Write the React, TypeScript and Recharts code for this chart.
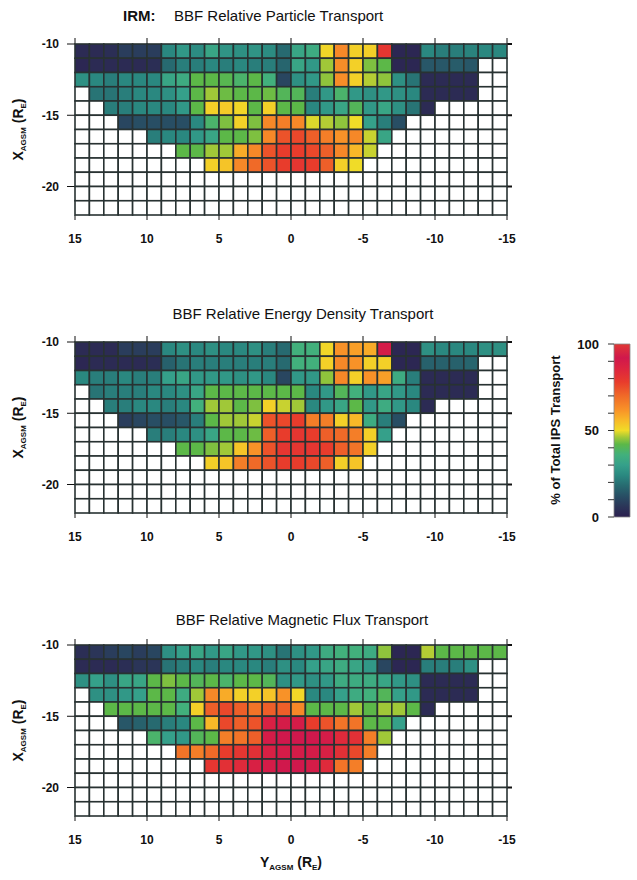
import React from "react";
import { Bar, BarChart, Scatter, ScatterChart, XAxis, YAxis } from "recharts";

const _ = null;

// Y_AGSM column left edges (R_E), drawn from +15 on the left to -15 on the right
const yEdges = [15, 14, 13, 12, 11, 10, 9, 8, 7, 6, 5, 4, 3, 2, 1, 0, -1, -2, -3, -4, -5, -6, -7, -8, -9, -10, -11, -12, -13, -14];
// X_AGSM row top edges (R_E)
const xEdges = [-10, -11, -12, -13, -14, -15, -16, -17, -18, -19, -20, -21];

const yTicks = [15, 10, 5, 0, -5, -10, -15];
const xTicks = [-10, -15, -20];
const scaleTicks = [0, 10, 20, 30, 40, 50, 60, 70, 80, 90, 100];
const scaleLabels = [0, 50, 100];

// % of total IPS transport per 1x1 R_E bin, rows from X=-10 downwards
const particle = [
  [3, 3, 4, 8, 8, 8, 24, 28, 25, 32, 27, 26, 27, 25, 18, 32, 34, 51, 64, 52, 52, 80, 2, 2, 24, 22, 22, 23, 24, 24],
  [2, 3, 3, 3, 3, 4, 18, 22, 22, 24, 22, 24, 22, 22, 17, 32, 28, 46, 63, 52, 44, 42, 2, 2, 14, 14, 15, 14, _, _],
  [26, 24, 22, 24, 24, 24, 32, 34, 42, 42, 41, 38, 42, 36, 10, 26, 28, 45, 63, 52, 47, 45, 26, 20, 3, 3, 3, 3, _, _],
  [_, 20, 20, 22, 24, 24, 26, 30, 42, 46, 43, 42, 42, 43, 40, 40, 22, 28, 38, 28, 26, 28, 26, 24, 3, 3, 3, 3, _, _],
  [_, _, 22, 22, 24, 24, 24, 28, 42, 52, 53, 51, 42, 52, 42, 42, 24, 28, 32, 40, 28, 32, 26, 20, 3, _, _, _, _, _],
  [_, _, _, 10, 12, 12, 12, 12, 24, 38, 44, 52, 44, 64, 66, 64, 49, 47, 45, 50, 30, 22, 12, _, _, _, _, _, _, _],
  [_, _, _, _, _, 22, 24, 24, 28, 32, 42, 42, 44, 64, 74, 76, 72, 66, 62, 64, 48, 32, _, _, _, _, _, _, _, _],
  [_, _, _, _, _, _, _, 42, 42, 46, 46, 58, 64, 74, 78, 78, 76, 72, 64, 56, 48, _, _, _, _, _, _, _, _, _],
  [_, _, _, _, _, _, _, _, _, 52, 54, 64, 70, 74, 78, 80, 78, 72, 52, 50, _, _, _, _, _, _, _, _, _, _],
  [_, _, _, _, _, _, _, _, _, _, _, _, _, _, _, _, _, _, _, _, _, _, _, _, _, _, _, _, _, _],
  [_, _, _, _, _, _, _, _, _, _, _, _, _, _, _, _, _, _, _, _, _, _, _, _, _, _, _, _, _, _],
  [_, _, _, _, _, _, _, _, _, _, _, _, _, _, _, _, _, _, _, _, _, _, _, _, _, _, _, _, _, _],
];

const energy = [
  [3, 3, 3, 8, 8, 8, 24, 26, 24, 26, 24, 24, 26, 22, 18, 36, 36, 51, 62, 60, 58, 90, 2, 2, 26, 24, 24, 24, 26, 26],
  [2, 3, 3, 3, 3, 4, 16, 20, 22, 22, 22, 22, 22, 22, 18, 36, 36, 52, 64, 62, 52, 52, 2, 2, 16, 16, 16, 17, _, _],
  [24, 22, 22, 24, 22, 22, 30, 32, 28, 28, 28, 26, 28, 24, 10, 28, 28, 45, 64, 52, 62, 60, 34, 22, 3, 3, 3, 3, _, _],
  [_, 20, 22, 22, 22, 24, 24, 26, 32, 42, 42, 42, 42, 42, 42, 42, 24, 28, 40, 36, 28, 32, 28, 24, 3, 3, 3, 3, _, _],
  [_, _, 22, 22, 24, 24, 22, 24, 36, 46, 46, 42, 44, 52, 48, 46, 24, 28, 32, 42, 28, 34, 28, 24, 3, _, _, _, _, _],
  [_, _, _, 8, 10, 12, 12, 14, 22, 42, 46, 46, 48, 74, 76, 78, 66, 66, 52, 56, 34, 22, 12, _, _, _, _, _, _, _],
  [_, _, _, _, _, 22, 22, 24, 26, 32, 42, 42, 43, 72, 78, 80, 78, 72, 70, 66, 52, 30, _, _, _, _, _, _, _, _],
  [_, _, _, _, _, _, _, 42, 42, 44, 46, 54, 62, 74, 80, 80, 80, 78, 72, 68, 52, _, _, _, _, _, _, _, _, _],
  [_, _, _, _, _, _, _, _, _, 52, 54, 66, 70, 74, 78, 78, 76, 72, 52, 54, _, _, _, _, _, _, _, _, _, _],
  [_, _, _, _, _, _, _, _, _, _, _, _, _, _, _, _, _, _, _, _, _, _, _, _, _, _, _, _, _, _],
  [_, _, _, _, _, _, _, _, _, _, _, _, _, _, _, _, _, _, _, _, _, _, _, _, _, _, _, _, _, _],
  [_, _, _, _, _, _, _, _, _, _, _, _, _, _, _, _, _, _, _, _, _, _, _, _, _, _, _, _, _, _],
];

const flux = [
  [4, 6, 8, 10, 8, 10, 26, 30, 32, 28, 32, 28, 28, 26, 20, 26, 28, 34, 36, 36, 34, 45, 2, 2, 47, 42, 42, 42, 42, 42],
  [3, 3, 3, 4, 6, 6, 20, 22, 24, 22, 24, 24, 24, 22, 26, 24, 30, 32, 34, 32, 28, 10, 2, 2, 22, 22, 22, 26, _, _],
  [26, 30, 26, 32, 32, 42, 44, 42, 40, 42, 38, 42, 42, 40, 26, 28, 26, 28, 34, 34, 34, 32, 28, 26, 3, 3, 3, 3, _, _],
  [_, 26, 26, 28, 30, 42, 42, 34, 46, 64, 58, 52, 52, 54, 62, 51, 24, 24, 30, 34, 36, 40, 30, 28, 3, 3, 3, 3, _, _],
  [_, _, 42, 42, 42, 42, 42, 36, 52, 72, 76, 72, 68, 72, 72, 64, 42, 42, 42, 46, 42, 46, 46, 42, 3, _, _, _, _, _],
  [_, _, _, 14, 16, 18, 22, 24, 42, 56, 76, 72, 74, 88, 90, 90, 78, 74, 68, 68, 42, 42, 30, _, _, _, _, _, _, _],
  [_, _, _, _, _, 38, 30, 28, 40, 42, 66, 68, 72, 90, 92, 92, 92, 90, 84, 82, 66, 46, _, _, _, _, _, _, _, _],
  [_, _, _, _, _, _, _, 68, 66, 70, 78, 80, 82, 88, 90, 90, 90, 88, 82, 76, 66, _, _, _, _, _, _, _, _, _],
  [_, _, _, _, _, _, _, _, _, 80, 82, 84, 88, 90, 92, 92, 90, 84, 68, 66, _, _, _, _, _, _, _, _, _, _],
  [_, _, _, _, _, _, _, _, _, _, _, _, _, _, _, _, _, _, _, _, _, _, _, _, _, _, _, _, _, _],
  [_, _, _, _, _, _, _, _, _, _, _, _, _, _, _, _, _, _, _, _, _, _, _, _, _, _, _, _, _, _],
  [_, _, _, _, _, _, _, _, _, _, _, _, _, _, _, _, _, _, _, _, _, _, _, _, _, _, _, _, _, _],
];

// colour scale (percent -> colour)
const stopValues = [0, 6, 12, 18, 24, 30, 36, 42, 46, 50, 56, 62, 70, 78, 86, 92, 100];
const stopColors = [
  "#2c2050", "#2b3558", "#284e64", "#276a70", "#2a8880", "#35a08a", "#42b07c", "#5cb848",
  "#a0c838", "#f0dc28", "#f8b828", "#f89228", "#f06a28", "#e83c2c", "#dc2440", "#d0184c", "#e03834",
];

const FONT = '"Liberation Sans", Arial, Helvetica, sans-serif';
const LINE = "#283232";

const CHART_W = 637;
const M_LEFT = 35;
const Y_AXIS_W = 40;
const M_RIGHT = 124;
const RIGHT_AXIS_W = 6;
const M_TOP = 30;
const TOP_AXIS_H = 6;
const PLOT_H = 171;
const BOTTOM_AXIS_H = 35;
const PLOT_W = CHART_W - M_LEFT - Y_AXIS_W - M_RIGHT - RIGHT_AXIS_W;
const CELL_W = PLOT_W / yEdges.length;
const CELL_H = PLOT_H / xEdges.length;

function hexRgb(h: string) {
  return [parseInt(h.slice(1, 3), 16), parseInt(h.slice(3, 5), 16), parseInt(h.slice(5, 7), 16)];
}

function valueColor(v: number) {
  for (let i = 0; i < stopValues.length - 1; i++) {
    if (v <= stopValues[i + 1]) {
      const t = (v - stopValues[i]) / (stopValues[i + 1] - stopValues[i]);
      const a = hexRgb(stopColors[i]);
      const b = hexRgb(stopColors[i + 1]);
      const c = a.map((x, k) => Math.round(x + (b[k] - x) * t));
      return `rgb(${c[0]},${c[1]},${c[2]})`;
    }
  }
  return stopColors[stopColors.length - 1];
}

function toCells(grid: (number | null)[][]) {
  const out: { yg: number; xg: number; v: number | null }[] = [];
  grid.forEach((row, r) =>
    row.forEach((v, c) => out.push({ yg: yEdges[c] - 0.5, xg: xEdges[r] - 0.5, v }))
  );
  return out;
}

const HeatCell = (props: any) => {
  const { cx, cy, payload } = props;
  return (
    <rect
      x={cx - CELL_W / 2}
      y={cy - CELL_H / 2}
      width={CELL_W}
      height={CELL_H}
      fill={payload.v == null ? "#ffffff" : valueColor(payload.v)}
      stroke={LINE}
      strokeWidth={1.6}
    />
  );
};

const Blank = () => <g />;

const YTitle = () => {
  const cx = 18;
  const cy = M_TOP + TOP_AXIS_H + PLOT_H / 2;
  return (
    <text
      x={cx}
      y={cy + 5}
      transform={`rotate(-90, ${cx}, ${cy})`}
      textAnchor="middle"
      fontFamily={FONT}
      fontWeight={700}
      fontSize={14}
      fill="#111"
    >
      <tspan>X</tspan>
      <tspan fontSize={8} dy={3}>AGSM</tspan>
      <tspan dy={-3}> (R</tspan>
      <tspan fontSize={8} dy={3}>E</tspan>
      <tspan dy={-3}>)</tspan>
    </text>
  );
};

const XTitle = () => {
  const cx = M_LEFT + Y_AXIS_W + PLOT_W / 2;
  const cy = M_TOP + TOP_AXIS_H + PLOT_H + 46;
  return (
    <text x={cx} y={cy + 5} textAnchor="middle" fontFamily={FONT} fontWeight={700} fontSize={14} fill="#111">
      <tspan>Y</tspan>
      <tspan fontSize={8} dy={3}>AGSM</tspan>
      <tspan dy={-3}> (R</tspan>
      <tspan fontSize={8} dy={3}>E</tspan>
      <tspan dy={-3}>)</tspan>
    </text>
  );
};

const tickStyle = { fontSize: 12, fontWeight: 700, fill: "#111", fontFamily: FONT };

function Panel({ top, grid, withXTitle }: { top: number; grid: (number | null)[][]; withXTitle?: boolean }) {
  const cells = toCells(grid);
  const mBottom = withXTitle ? 30 : 6;
  const height = M_TOP + TOP_AXIS_H + PLOT_H + BOTTOM_AXIS_H + mBottom;
  return (
    <div style={{ position: "absolute", left: 0, top }}>
      <ScatterChart width={CHART_W} height={height} margin={{ top: M_TOP, right: M_RIGHT, bottom: mBottom, left: M_LEFT }}>
        <XAxis
          xAxisId="b"
          type="number"
          dataKey="yg"
          domain={[-15, 15]}
          reversed
          ticks={yTicks}
          interval={0}
          height={BOTTOM_AXIS_H}
          axisLine={false}
          tickLine={{ stroke: "#111" }}
          tickSize={5}
          tickMargin={14}
          tick={tickStyle}
          label={withXTitle ? <XTitle /> : undefined}
        />
        <XAxis
          xAxisId="t"
          orientation="top"
          type="number"
          dataKey="yg"
          domain={[-15, 15]}
          reversed
          ticks={yTicks}
          interval={0}
          height={TOP_AXIS_H}
          axisLine={false}
          tickLine={{ stroke: "#111" }}
          tickSize={6}
          tickFormatter={() => ""}
        />
        <YAxis
          yAxisId="l"
          type="number"
          dataKey="xg"
          domain={[-22, -10]}
          ticks={xTicks}
          interval={0}
          width={Y_AXIS_W}
          axisLine={false}
          tickLine={{ stroke: "#111" }}
          tickSize={8}
          tickMargin={8}
          tick={tickStyle}
          label={<YTitle />}
        />
        <YAxis
          yAxisId="r"
          orientation="right"
          type="number"
          dataKey="xg"
          domain={[-22, -10]}
          ticks={xTicks}
          interval={0}
          width={RIGHT_AXIS_W}
          axisLine={false}
          tickLine={{ stroke: "#111", strokeWidth: 2 }}
          tickSize={5}
          tickFormatter={() => ""}
        />
        <Scatter xAxisId="b" yAxisId="l" data={cells} shape={HeatCell} isAnimationActive={false} />
        <Scatter xAxisId="t" yAxisId="r" data={cells} shape={Blank} isAnimationActive={false} />
      </ScatterChart>
    </div>
  );
}

const CbarTitle = () => (
  <text
    x={25}
    y={100 + 5}
    transform="rotate(-90, 25, 100)"
    textAnchor="middle"
    fontFamily={FONT}
    fontWeight={700}
    fontSize={13}
    fill="#111"
  >
    % of Total IPS Transport
  </text>
);

function ColorBar() {
  const scaleData = [{ name: "scale", value: 100 }];
  return (
    <div style={{ position: "absolute", left: 530, top: 330 }}>
      <BarChart width={107} height={200} data={scaleData} margin={{ top: 14, right: 7, bottom: 13, left: 44 }} barCategoryGap={0}>
        <defs>
          <linearGradient id="cbar" x1="0" y1="1" x2="0" y2="0">
            {stopValues.map((v, i) => (
              <stop key={v} offset={`${v}%`} stopColor={stopColors[i]} />
            ))}
          </linearGradient>
        </defs>
        <XAxis dataKey="name" hide />
        <YAxis
          type="number"
          domain={[0, 100]}
          ticks={scaleTicks}
          interval={0}
          width={40}
          axisLine={false}
          tickLine={{ stroke: "#333" }}
          tickSize={6}
          tickMargin={9}
          tickFormatter={(v: number) => (scaleLabels.includes(v) ? String(v) : "")}
          tick={{ fontSize: 13, fontWeight: 700, fill: "#111", fontFamily: FONT }}
          label={<CbarTitle />}
        />
        <Bar dataKey="value" fill="url(#cbar)" stroke="#888" strokeWidth={0.8} isAnimationActive={false} />
      </BarChart>
    </div>
  );
}

const titleStyle: React.CSSProperties = {
  position: "absolute",
  fontFamily: FONT,
  fontSize: 15,
  lineHeight: "16px",
  color: "#111",
  whiteSpace: "nowrap",
};

export default function App() {
  return (
    <div style={{ position: "absolute", left: 0, top: 0, width: 637, height: 880, background: "#fff", overflow: "hidden" }}>
      <div style={{ ...titleStyle, left: 123, top: 8, fontWeight: 700 }}>IRM:</div>
      <div style={{ ...titleStyle, left: 174, top: 8 }}>BBF Relative Particle Transport</div>
      <div style={{ ...titleStyle, left: 0, width: 606, textAlign: "center", top: 306 }}>BBF Relative Energy Density Transport</div>
      <div style={{ ...titleStyle, left: 0, width: 604, textAlign: "center", top: 612 }}>BBF Relative Magnetic Flux Transport</div>
      <Panel top={8} grid={particle} />
      <Panel top={306} grid={energy} />
      <Panel top={609} grid={flux} withXTitle />
      <ColorBar />
    </div>
  );
}
